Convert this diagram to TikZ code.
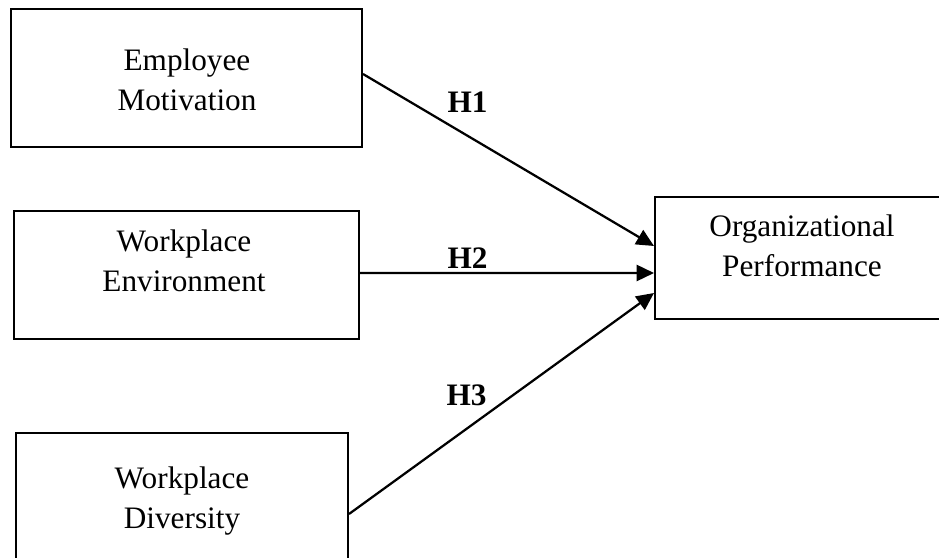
\documentclass[tikz,border=0pt]{standalone}
\usepackage{fontspec}
\setmainfont{Liberation Serif}
\usetikzlibrary{arrows.meta}
\tikzset{
  box/.style={draw, line width=0.8pt, inner sep=0pt},
  txt/.style={align=center, font=\fontsize{12.5}{16}\selectfont},
  hyp/.style={anchor=base, font=\fontsize{12.5}{14}\selectfont\bfseries},
}
\begin{document}
\begin{tikzpicture}[x=0.4pt, y=-0.4pt]
      \useasboundingbox (0,0) rectangle (939,558);
      \clip (0,0) rectangle (939,558);
      \draw
        (186.5,78) node[box, minimum width=140.4pt, minimum height=55.2pt] (em){}
        (186.5,275) node[box, minimum width=138pt, minimum height=51.2pt] (we){}
        (182,506.5) node[box, minimum width=132.8pt, minimum height=58.8pt] (wd){}
        (807.5,258) node[box, minimum width=122pt, minimum height=48.8pt] (op){};
      \draw
        (187,80) node[txt] (emtext){Employee\\Motivation}
        (184,261) node[txt] (wetext){Workplace\\Environment}
        (182,501) node[txt] (wdtext){Workplace\\Diversity}
        (802,246) node[txt] (optext){Organizational\\Performance};
      \draw
        (467.5,113) node[hyp] (h1){H1}
        (467.5,269) node[hyp] (h2){H2}
        (466.5,406) node[hyp] (h3){H3};
      \begin{scope}[-{Triangle[length=7pt,width=6.5pt]}, line width=0.9pt]
        \draw ([yshift=1.6pt]em.east) to ([yshift=4.8pt]op.west);
        \draw ([yshift=0.8pt]we.east) to ([yshift=-6pt]op.west);
        \draw ([yshift=-3pt]wd.east) to ([yshift=-14pt]op.west);
      \end{scope}
    \end{tikzpicture}
\end{document}
